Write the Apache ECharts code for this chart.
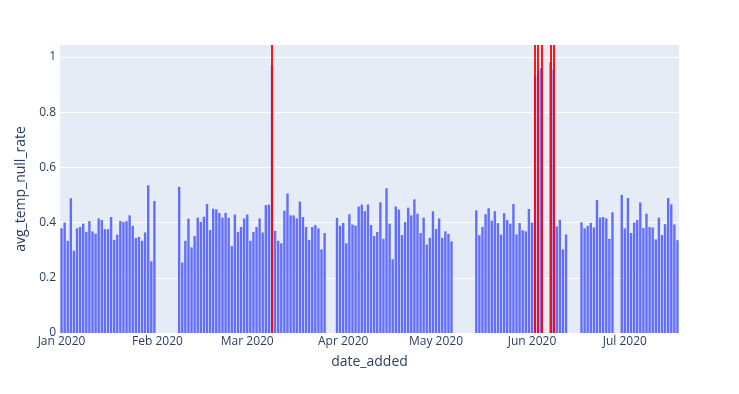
<!DOCTYPE html>
<html>
<head>
<meta charset="utf-8">
<script src="https://cdn.jsdelivr.net/npm/echarts@6/dist/echarts.min.js"></script>
<style>
html,body{margin:0;padding:0;background:#fff;}
#chart{width:739px;height:394px;}
</style>
</head>
<body>
<div id="chart"></div>
<script>
// ---- data ----
const janDates = ['2020-01-01','2020-01-02','2020-01-03','2020-01-04','2020-01-05','2020-01-06','2020-01-07','2020-01-08','2020-01-09','2020-01-10','2020-01-11','2020-01-12','2020-01-13','2020-01-14','2020-01-15','2020-01-16','2020-01-17','2020-01-18','2020-01-19','2020-01-20','2020-01-21','2020-01-22','2020-01-23','2020-01-24','2020-01-25','2020-01-26','2020-01-27','2020-01-28','2020-01-29','2020-01-30','2020-01-31'];
const janValues = [0.379,0.400,0.334,0.488,0.298,0.379,0.384,0.396,0.366,0.405,0.368,0.360,0.415,0.409,0.376,0.376,0.420,0.337,0.356,0.406,0.402,0.405,0.426,0.388,0.344,0.348,0.334,0.364,0.535,0.260,0.478];

const febDates = ['2020-02-08','2020-02-09','2020-02-10','2020-02-11','2020-02-12','2020-02-13','2020-02-14','2020-02-15','2020-02-16','2020-02-17','2020-02-18','2020-02-19','2020-02-20','2020-02-21','2020-02-22','2020-02-23','2020-02-24','2020-02-25','2020-02-26','2020-02-27','2020-02-28','2020-02-29'];
const febValues = [0.529,0.255,0.334,0.414,0.310,0.351,0.418,0.402,0.421,0.467,0.373,0.450,0.448,0.435,0.418,0.435,0.417,0.315,0.429,0.366,0.384,0.415];

const marDates = ['2020-03-01','2020-03-02','2020-03-03','2020-03-04','2020-03-05','2020-03-06','2020-03-07','2020-03-08','2020-03-09','2020-03-10','2020-03-11','2020-03-12','2020-03-13','2020-03-14','2020-03-15','2020-03-16','2020-03-17','2020-03-18','2020-03-19','2020-03-20','2020-03-21','2020-03-22','2020-03-23','2020-03-24','2020-03-25','2020-03-26','2020-03-30','2020-03-31'];
const marValues = [0.429,0.334,0.366,0.384,0.415,0.364,0.463,0.465,0.967,0.370,0.334,0.325,0.443,0.505,0.426,0.426,0.415,0.476,0.420,0.384,0.337,0.384,0.391,0.379,0.303,0.362,0.417,0.388];

const aprDates = ['2020-04-01','2020-04-02','2020-04-03','2020-04-04','2020-04-05','2020-04-06','2020-04-07','2020-04-08','2020-04-09','2020-04-10','2020-04-11','2020-04-12','2020-04-13','2020-04-14','2020-04-15','2020-04-16','2020-04-17','2020-04-18','2020-04-19','2020-04-20','2020-04-21','2020-04-22','2020-04-23','2020-04-24','2020-04-25','2020-04-26','2020-04-27','2020-04-28','2020-04-29','2020-04-30'];
const aprValues = [0.399,0.325,0.430,0.393,0.389,0.458,0.465,0.441,0.465,0.391,0.351,0.366,0.473,0.341,0.524,0.396,0.267,0.458,0.447,0.355,0.402,0.454,0.426,0.484,0.432,0.362,0.418,0.320,0.345,0.441];

const mayDates = ['2020-05-01','2020-05-02','2020-05-03','2020-05-04','2020-05-05','2020-05-06','2020-05-14','2020-05-15','2020-05-16','2020-05-17','2020-05-18','2020-05-19','2020-05-20','2020-05-21','2020-05-22','2020-05-23','2020-05-24','2020-05-25','2020-05-26','2020-05-27','2020-05-28','2020-05-29','2020-05-30','2020-05-31'];
const mayValues = [0.377,0.415,0.345,0.368,0.359,0.332,0.444,0.354,0.384,0.430,0.452,0.407,0.441,0.398,0.356,0.434,0.409,0.396,0.467,0.357,0.398,0.372,0.368,0.449];

const junDates = ['2020-06-01','2020-06-02','2020-06-03','2020-06-04','2020-06-07','2020-06-08','2020-06-09','2020-06-10','2020-06-11','2020-06-12','2020-06-17','2020-06-18','2020-06-19','2020-06-20','2020-06-21','2020-06-22','2020-06-23','2020-06-24','2020-06-25','2020-06-26','2020-06-27','2020-06-30'];
const junValues = [0.400,0.930,0.950,0.960,0.980,0.955,0.386,0.410,0.303,0.357,0.401,0.379,0.388,0.399,0.382,0.482,0.418,0.420,0.415,0.341,0.437,0.500];

const julDates = ['2020-07-01','2020-07-02','2020-07-03','2020-07-04','2020-07-05','2020-07-06','2020-07-07','2020-07-08','2020-07-09','2020-07-10','2020-07-11','2020-07-12','2020-07-13','2020-07-14','2020-07-15','2020-07-16','2020-07-17','2020-07-18'];
const julValues = [0.379,0.489,0.362,0.400,0.409,0.473,0.380,0.432,0.384,0.382,0.339,0.418,0.355,0.394,0.489,0.466,0.393,0.336];

// highlighted (anomaly) dates drawn as red vertical lines
const flaggedDates = ['2020-03-09','2020-06-02','2020-06-03','2020-06-04','2020-06-07','2020-06-08'];

// x tick labels
const tickDates = ['2020-01-01','2020-02-01','2020-03-01','2020-04-01','2020-05-01','2020-06-01','2020-07-01'];
const tickLabels = ['Jan 2020','Feb 2020','Mar 2020','Apr 2020','May 2020','Jun 2020','Jul 2020'];
const yTicks = [0, 0.2, 0.4, 0.6, 0.8, 1];

// ---- build ----
const ts = s => { const p = s.split('-').map(Number); return Date.UTC(p[0], p[1]-1, p[2]); };
const allDates = [].concat(janDates, febDates, marDates, aprDates, mayDates, junDates, julDates);
const allValues = [].concat(janValues, febValues, marValues, aprValues, mayValues, junValues, julValues);
const seriesData = allDates.map((d, i) => [ts(d), allValues[i]]);
const DAY = 86400000;
const xMin = ts(allDates[0]) - DAY / 2;
const xMax = ts(allDates[allDates.length - 1]) + DAY / 2;
const tickTs = tickDates.map(ts);

const textColor = '#2a3f5f';
const font = "'Open Sans', 'DejaVu Sans', sans-serif";

const chart = echarts.init(document.getElementById('chart'), null, {renderer: 'canvas'});
chart.setOption({
  animation: false,
  backgroundColor: '#ffffff',
  grid: {
    left: 60, top: 45, width: 619, height: 288,
    show: true, backgroundColor: '#E5ECF6', borderWidth: 0
  },
  xAxis: {
    type: 'value',
    min: xMin, max: xMax,
    scale: true,
    name: 'date_added',
    nameLocation: 'middle',
    nameGap: 22,
    nameTextStyle: {color: textColor, fontSize: 14, fontFamily: font},
    axisLine: {show: false},
    axisTick: {show: false},
    splitLine: {show: false},
    axisLabel: {
      customValues: tickTs,
      color: textColor, fontSize: 12, fontFamily: font, margin: 3,
      hideOverlap: false,
      formatter: function (v) {
        const i = tickTs.indexOf(v);
        return i >= 0 ? tickLabels[i] : '';
      }
    }
  },
  yAxis: {
    type: 'value',
    min: 0, max: 1.043,
    interval: 0.2,
    name: 'avg_temp_null_rate',
    nameLocation: 'middle',
    nameGap: 29,
    nameTextStyle: {color: textColor, fontSize: 14, fontFamily: font},
    axisLine: {show: false},
    axisTick: {show: false},
    splitLine: {show: true, showMaxLine: false, lineStyle: {color: '#ffffff', width: 1}},
    axisLabel: {
      customValues: yTicks,
      color: textColor, fontSize: 12, fontFamily: font, margin: 4,
      formatter: v => String(Math.round(v * 10) / 10)
    }
  },
  series: [{
    type: 'bar',
    data: seriesData,
    barWidth: 2.4,
    itemStyle: {color: '#636efa', borderWidth: 0},
    markLine: {
      silent: true,
      symbol: ['none', 'none'],
      label: {show: false},
      lineStyle: {color: 'rgba(255,0,0,0.9)', width: 2, type: 'solid'},
      data: flaggedDates.map(d => ({xAxis: ts(d)}))
    }
  }]
});
</script>
</body>
</html>
